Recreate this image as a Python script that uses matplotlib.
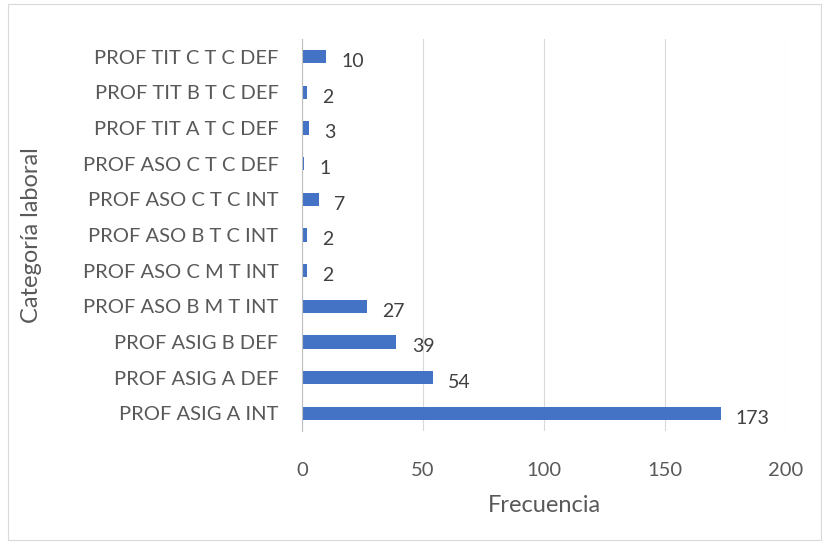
import matplotlib

matplotlib.use("Agg")
import matplotlib.pyplot as plt
from matplotlib.patches import Rectangle

categories = [
    "PROF ASIG A INT",
    "PROF ASIG A DEF",
    "PROF ASIG B DEF",
    "PROF ASO B M T INT",
    "PROF ASO C M T INT",
    "PROF ASO B T C INT",
    "PROF ASO C T C INT",
    "PROF ASO C T C DEF",
    "PROF TIT A T C DEF",
    "PROF TIT B T C DEF",
    "PROF TIT C T C DEF",
]
frequencies = [173, 54, 39, 27, 2, 2, 7, 1, 3, 2, 10]
x_ticks = [0, 50, 100, 150, 200]

plt.rcParams["font.family"] = ["Lato", "DejaVu Sans"]
text_color = "#595959"
bar_color = "#4472C4"

fig = plt.figure(figsize=(8.25, 5.44), dpi=100)
fig.patches.append(Rectangle((8 / 825, 4 / 544), 813 / 825, 536 / 544, transform=fig.transFigure,
                             fill=False, edgecolor="#D9D9D9", linewidth=0.8))

ax = fig.add_axes([302 / 825, 1 - 431 / 544, 484 / 825, 392 / 544])
pos = list(range(len(categories)))
ax.barh(pos, frequencies, height=0.37, color=bar_color, zorder=3)
for y, v in zip(pos, frequencies):
    ax.annotate(str(v), (v, y), xytext=(11, -3.5), textcoords="offset points",
                ha="left", va="center", fontsize=14, color="#404040")

ax.set_xlim(0, 200)
ax.set_ylim(-0.5, len(categories) - 0.5)
ax.set_xticks(x_ticks)
ax.set_yticks(pos)
ax.set_yticklabels(categories, fontsize=14.5)
ax.grid(axis="x", color="#D9D9D9", linewidth=0.8, zorder=0)
for s in ["top", "right", "bottom"]:
    ax.spines[s].set_visible(False)
ax.spines["left"].set_color("#BFBFBF")
ax.spines["left"].set_zorder(4)
ax.tick_params(axis="both", length=0, labelcolor=text_color)
ax.tick_params(axis="y", pad=17)
ax.tick_params(axis="x", pad=22, labelsize=14.5)
ax.set_xlabel("Frecuencia", fontsize=17, color=text_color, labelpad=12)
ax.set_ylabel("Categoría laboral", fontsize=17, color=text_color)
ax.yaxis.set_label_coords(-260 / 484, 0.5)

fig.savefig("out.png", dpi=100)
